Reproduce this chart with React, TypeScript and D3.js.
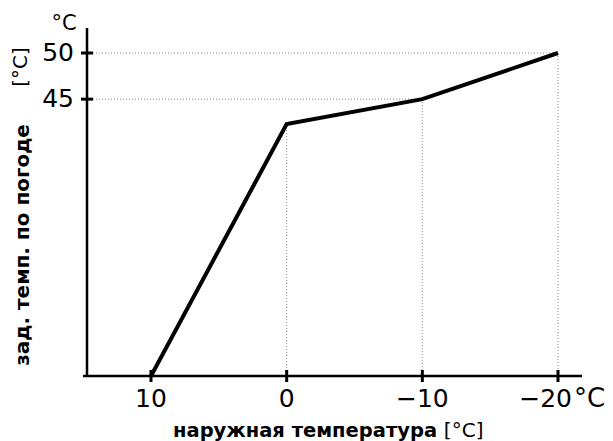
import React from "react";
import { scaleLinear, line } from "d3";

// outdoor temperature (°C) vs set temperature (°C)
const outdoor = [10, 0, -10, -20];
const setTemp = [15, 42.3, 45, 50];
const xTicks = [10, 0, -10, -20];
const yTicks = [50, 45];
const xTickLabels = ["10", "0", "\u221210", "\u221220"];

const W = 613;
const H = 441;

const App = () => {
  const x = scaleLinear().domain([10, -20]).range([151, 558]);
  const y = scaleLinear().domain([15, 50]).range([376, 53]);
  const x0 = 87; // y axis position
  const pts: [number, number][] = outdoor.map((d, i) => [d, setTemp[i]]);
  const path = line<[number, number]>()
    .x((d) => x(d[0]))
    .y((d) => y(d[1]));
  const font = "DejaVu Sans, Verdana, sans-serif";

  return (
    <svg
      width={W}
      height={H}
      style={{ position: "absolute", left: 0, top: 0, background: "#fff" }}
      fontFamily={font}
    >
      {/* guide lines */}
      {pts.slice(1).map((p, i) => (
        <g key={i} stroke="#888" strokeWidth={1} strokeDasharray="1,2">
          {yTicks.includes(p[1]) && (
            <line x1={x0} x2={x(p[0])} y1={y(p[1])} y2={y(p[1])} />
          )}
          <line x1={x(p[0])} x2={x(p[0])} y1={y(p[1])} y2={y(15)} />
        </g>
      ))}
      {/* axes */}
      <line x1={x0} x2={x0} y1={28} y2={y(15) + 1} stroke="#000" strokeWidth={2.5} />
      <line x1={83} x2={582} y1={y(15)} y2={y(15)} stroke="#000" strokeWidth={2.5} />
      {yTicks.map((t) => (
        <g key={t}>
          <line x1={x0 - 6} x2={x0 + 6} y1={y(t)} y2={y(t)} stroke="#000" strokeWidth={3} />
          <text x={74} y={y(t) + 8} fontSize={25} textAnchor="end">
            {t}
          </text>
        </g>
      ))}
      <text x={64} y={30} fontSize={21} textAnchor="middle">°C</text>
      <text
        transform={`translate(27,67) rotate(-90)`}
        fontSize={20}
        textAnchor="middle"
      >
        [°C]
      </text>
      <text
        transform={`translate(29,245) rotate(-90)`}
        fontSize={20}
        fontWeight="bold"
        textAnchor="middle"
      >
        зад. темп. по погоде
      </text>
      {xTicks.map((t, i) => (
        <g key={t}>
          <line
            x1={x(t)}
            x2={x(t)}
            y1={y(15) - 6}
            y2={y(15) + 6}
            stroke="#000"
            strokeWidth={3}
          />
          <text
            x={i === 3 ? 572 : x(t)}
            y={407}
            fontSize={25}
            textAnchor={i === 3 ? "end" : "middle"}
          >
            {xTickLabels[i]}
          </text>
        </g>
      ))}
      <text x={574} y={407} fontSize={26}>°C</text>
      <text x={173} y={437} fontSize={19.5}>
        <tspan fontWeight="bold">наружная температура </tspan>
        <tspan fontSize={20}>[°C]</tspan>
      </text>
      {/* curve */}
      <path d={path(pts) || ""} fill="none" stroke="#000" strokeWidth={4} strokeLinejoin="miter" />
    </svg>
  );
};

export default App;
